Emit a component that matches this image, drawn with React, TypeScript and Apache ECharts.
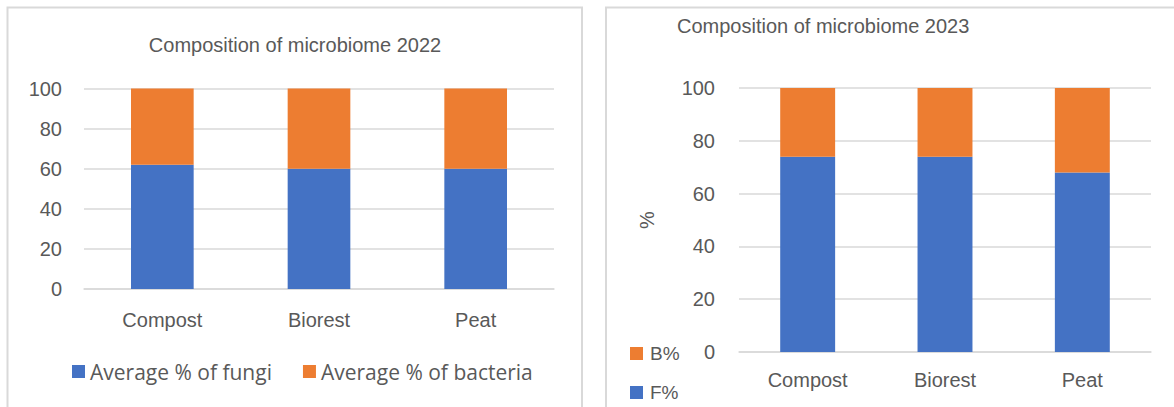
import React, { useEffect, useRef } from "react";
import * as echarts from "echarts";

const categories = ["Compost", "Biorest", "Peat"];
const fungi2022 = [62, 60, 60];
const bacteria2022 = [38, 40, 40];
const f2023 = [74, 74, 68];
const b2023 = [26, 26, 32];
const yTicksMax = 100;

const BLUE = "#4472C4";
const ORANGE = "#ED7D31";
const TEXT = "#595959";
const GRID = "#D9D9D9";
const AX_FONT = "'Liberation Sans', Arial, sans-serif";
const LEG_FONT = "'Open Sans', sans-serif";

export default function App() {
  const ref = useRef<HTMLDivElement>(null);
  useEffect(() => {
    if (!ref.current) return;
    const chart = echarts.init(ref.current, undefined, { renderer: "svg" });
    const yAxisBase = {
      type: "value",
      min: 0,
      max: yTicksMax,
      interval: 20,
      axisLine: { show: false },
      axisTick: { show: false },
      splitLine: { lineStyle: { color: GRID, width: 1.5 } },
    };
    const xAxisBase = {
      type: "category",
      data: categories,
      axisTick: { show: false },
      axisLine: { lineStyle: { color: GRID, width: 1.5 } },
    };
    chart.setOption({
      animation: false,
      backgroundColor: "#fff",
      graphic: [
        {
          type: "rect",
          shape: { x: 7.5, y: 7.5, width: 574.5, height: 430 },
          style: { fill: "none", stroke: GRID, lineWidth: 2 },
          silent: true,
        },
        {
          type: "rect",
          shape: { x: 606, y: 7.5, width: 600, height: 430 },
          style: { fill: "none", stroke: GRID, lineWidth: 2 },
          silent: true,
        },
        {
          type: "text",
          x: 295,
          y: 45,
          style: {
            text: "Composition of microbiome 2022",
            align: "center",
            verticalAlign: "middle",
            fontSize: 20,
            fontFamily: AX_FONT,
            fill: TEXT,
          },
        },
        {
          type: "text",
          x: 677,
          y: 26,
          style: {
            text: "Composition of microbiome 2023",
            align: "left",
            verticalAlign: "middle",
            fontSize: 20,
            fontFamily: AX_FONT,
            fill: TEXT,
          },
        },
      ],
      grid: [
        { left: 84, width: 470, top: 88.5, height: 200.5 },
        { left: 739, width: 412, top: 88, height: 264 },
      ],
      xAxis: [
        {
          ...xAxisBase,
          gridIndex: 0,
          axisLabel: { color: TEXT, fontSize: 20, fontFamily: AX_FONT, margin: 21 },
        },
        {
          ...xAxisBase,
          gridIndex: 1,
          axisLabel: { color: TEXT, fontSize: 20, fontFamily: AX_FONT, margin: 18 },
        },
      ],
      yAxis: [
        {
          ...yAxisBase,
          gridIndex: 0,
          axisLabel: { color: TEXT, fontSize: 20, fontFamily: AX_FONT, margin: 22 },
        },
        {
          ...yAxisBase,
          gridIndex: 1,
          name: "%",
          nameLocation: "middle",
          nameGap: 82,
          nameRotate: 90,
          nameTextStyle: { color: TEXT, fontSize: 20, fontFamily: AX_FONT },
          axisLabel: { color: TEXT, fontSize: 20, fontFamily: AX_FONT, margin: 24 },
        },
      ],
      legend: [
        {
          data: ["Average % of fungi", "Average % of bacteria"],
          orient: "horizontal",
          left: 67,
          top: 356,
          itemWidth: 13,
          itemHeight: 13,
          itemGap: 31,
          icon: "rect",
          selectedMode: false,
          textStyle: { color: TEXT, fontSize: 21, fontFamily: LEG_FONT, padding: [0, 0, 0, 0] },
        },
        {
          data: ["B%", "F%"],
          orient: "vertical",
          left: 625,
          top: 339,
          itemWidth: 13,
          itemHeight: 13,
          itemGap: 20,
          icon: "rect",
          selectedMode: false,
          textStyle: { color: TEXT, fontSize: 19, fontFamily: AX_FONT, padding: [0, 0, 0, 2] },
        },
      ],
      series: [
        {
          name: "Average % of fungi",
          type: "bar",
          stack: "a",
          xAxisIndex: 0,
          yAxisIndex: 0,
          barWidth: "40%",
          data: fungi2022,
          itemStyle: { color: BLUE },
        },
        {
          name: "Average % of bacteria",
          type: "bar",
          stack: "a",
          xAxisIndex: 0,
          yAxisIndex: 0,
          barWidth: "40%",
          data: bacteria2022,
          itemStyle: { color: ORANGE },
        },
        {
          name: "F%",
          type: "bar",
          stack: "b",
          xAxisIndex: 1,
          yAxisIndex: 1,
          barWidth: "40%",
          data: f2023,
          itemStyle: { color: BLUE },
        },
        {
          name: "B%",
          type: "bar",
          stack: "b",
          xAxisIndex: 1,
          yAxisIndex: 1,
          barWidth: "40%",
          data: b2023,
          itemStyle: { color: ORANGE },
        },
      ],
    });
    return () => chart.dispose();
  }, []);
  return (
    <div
      ref={ref}
      style={{ position: "absolute", left: 0, top: 0, width: 1174, height: 407, background: "#fff" }}
    />
  );
}
